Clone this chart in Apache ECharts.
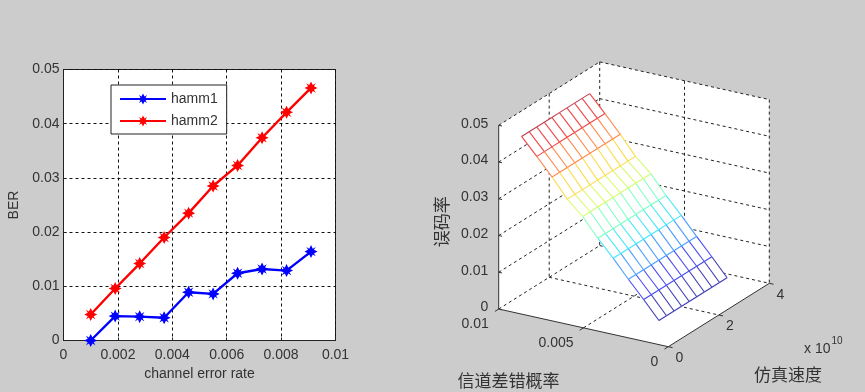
<!DOCTYPE html>
<html>
<head>
<meta charset="utf-8">
<title>BER</title>
<script src="https://cdn.jsdelivr.net/npm/echarts@6/dist/echarts.min.js"></script>
<style>
  html, body { margin: 0; background: #cccccc; }
  #main { width: 865px; height: 392px; filter: blur(0.45px); }
</style>
</head>
<body>
<div id="main"></div>
<script>
// values
var errorRates = [0.001, 0.0019, 0.0028, 0.0037, 0.0046, 0.0055, 0.0064, 0.0073, 0.0082, 0.0091];
var hamm1 = [0, 0.0045, 0.0044, 0.0042, 0.0089, 0.0086, 0.0124, 0.0132, 0.0129, 0.0164];
var hamm2 = [0.0048, 0.0096, 0.0142, 0.019, 0.0235, 0.0285, 0.0323, 0.0374, 0.0421, 0.0466];

// right plot: the mesh, speed in units of 1e10
var speeds = [0.3, 0.6, 0.9, 1.2, 1.5, 1.8, 2.1, 2.4, 2.7, 3.0];
var surfaceBER = [0.0048, 0.0096, 0.0142, 0.019, 0.0235, 0.0285, 0.0323, 0.0374, 0.0421, 0.0466];

var errTicks = [0.01, 0.005, 0];
var speedTicks = [0, 2, 4];
var berTicks = [0, 0.01, 0.02, 0.03, 0.04, 0.05];

// colours of the mesh from low to high BER
var meshColors = ['#3a3ab4', '#4848f0', '#4a9cff', '#40e4ff', '#7cffc4', '#d4ff74', '#ffd844', '#ff8a4a', '#f04848', '#c03c50'];

var ERR_MAX = 0.01, SPEED_MAX = 4, BER_MAX = 0.05;
var TEXT = '#333333';
var FONT = '"Liberation Sans", Arial, sans-serif';
var CJK = '"Noto Sans CJK SC", sans-serif';

/** oblique view of the 3d box, result is in the units of the hidden axes */
function project(err, speed, ber) {
    return [
        668.3 - 169.6 * err / ERR_MAX + 101 * speed / SPEED_MAX,
        346.7 - 37.7 * err / ERR_MAX - 63.4 * speed / SPEED_MAX - 183.7 * ber / BER_MAX
    ];
}

function meshColor(ber) {
    var t = (ber - surfaceBER[0]) / (surfaceBER[surfaceBER.length - 1] - surfaceBER[0]);
    return echarts.color.lerp(t, meshColors);
}

// dashed lines of the box
var dashedLines = [
    [ERR_MAX, 0, BER_MAX, ERR_MAX, SPEED_MAX, BER_MAX],
    [ERR_MAX, SPEED_MAX, BER_MAX, 0, SPEED_MAX, BER_MAX],
    [0, SPEED_MAX, BER_MAX, 0, SPEED_MAX, 0],
    [ERR_MAX, SPEED_MAX, BER_MAX, ERR_MAX, SPEED_MAX, 0],
    [ERR_MAX, 2, BER_MAX, ERR_MAX, 2, 0],
    [0.005, SPEED_MAX, BER_MAX, 0.005, SPEED_MAX, 0],
    [ERR_MAX, 0, 0, ERR_MAX, SPEED_MAX, 0],
    [ERR_MAX, SPEED_MAX, 0, 0, SPEED_MAX, 0],
    [0.005, 0, 0, 0.005, SPEED_MAX, 0],
    [ERR_MAX, 2, 0, 0, 2, 0]
];
berTicks.slice(1, 5).forEach(function (b) {
    dashedLines.push([ERR_MAX, 0, b, ERR_MAX, SPEED_MAX, b]);
    dashedLines.push([ERR_MAX, SPEED_MAX, b, 0, SPEED_MAX, b]);
});

// solid axes and their ticks
var axisLines = [
    [ERR_MAX, 0, 0, ERR_MAX, 0, BER_MAX],
    [ERR_MAX, 0, 0, 0, 0, 0],
    [0, 0, 0, 0, SPEED_MAX, 0]
];
berTicks.forEach(function (b) {
    axisLines.push([ERR_MAX, 0, b, ERR_MAX - 0.0002, 0, b]);
});
errTicks.forEach(function (e) {
    axisLines.push([e, 0, 0, e, -0.15, 0]);
});
speedTicks.forEach(function (s) {
    axisLines.push([0, s, 0, -0.00025, s, 0]);
});

// one row per mesh node, the last row and column have no cell of their own
var meshNodes = [];
errorRates.forEach(function (e, i) {
    speeds.forEach(function (s, j) {
        meshNodes.push([i, j]);
    });
});

var tickLabels = [];
berTicks.forEach(function (b) {
    tickLabels.push({ at: [ERR_MAX, 0, b], text: String(b), dx: -10.5, dy: -1.5, align: 'right' });
});
errTicks.forEach(function (e) {
    tickLabels.push({ at: [e, 0, 0], text: String(e), dx: -10, dy: 15.5, align: 'right' });
});
speedTicks.forEach(function (s) {
    tickLabels.push({ at: [0, s, 0], text: String(s), dx: 11, dy: 11.5, align: 'center' });
});

function segment(api, row, style) {
    var a = api.coord(project(row[0], row[1], row[2]));
    var b = api.coord(project(row[3], row[4], row[5]));
    return { type: 'line', shape: { x1: a[0], y1: a[1], x2: b[0], y2: b[1] }, style: style };
}

function renderLines(color, dash) {
    return function (params, api) {
        return segment(api, [0, 1, 2, 3, 4, 5].map(function (k) { return api.value(k); }), {
            stroke: color, lineWidth: 1, lineDash: dash || null
        });
    };
}

function renderWalls(params, api) {
    var corners = [
        [ERR_MAX, 0, 0], [ERR_MAX, 0, BER_MAX], [ERR_MAX, SPEED_MAX, BER_MAX],
        [0, SPEED_MAX, BER_MAX], [0, SPEED_MAX, 0], [0, 0, 0]
    ];
    return {
        type: 'polygon',
        shape: { points: corners.map(function (c) { return api.coord(project(c[0], c[1], c[2])); }) },
        style: { fill: '#ffffff' }
    };
}

function meshNode(a, b) {
    return [errorRates[a], speeds[b], surfaceBER[a]];
}

// white face of a cell, hides the dashed lines behind the mesh
function renderMeshFace(params, api) {
    var i = api.value(0), j = api.value(1);
    if (i >= errorRates.length - 1 || j >= speeds.length - 1) {
        return null;
    }
    return {
        type: 'polygon',
        shape: {
            points: [meshNode(i, j), meshNode(i + 1, j), meshNode(i + 1, j + 1), meshNode(i, j + 1)].map(function (c) {
                return api.coord(project(c[0], c[1], c[2]));
            })
        },
        style: { fill: '#ffffff', stroke: '#ffffff', lineWidth: 0.5 }
    };
}

function renderMeshEdges(params, api) {
    var i = api.value(0), j = api.value(1);
    var children = [];
    var stroke = { stroke: meshColor(surfaceBER[i]), lineWidth: 1.1 };
    if (j < speeds.length - 1) {
        children.push(segment(api, meshNode(i, j).concat(meshNode(i, j + 1)), stroke));
    }
    if (i < errorRates.length - 1) {
        children.push(segment(api, meshNode(i, j).concat(meshNode(i + 1, j)), stroke));
    }
    return { type: 'group', children: children };
}

function renderTickLabel(params, api) {
    var t = tickLabels[params.dataIndex];
    var p = api.coord(project(t.at[0], t.at[1], t.at[2]));
    return {
        type: 'text',
        x: p[0] + t.dx,
        y: p[1] + t.dy,
        style: { text: t.text, fill: TEXT, font: '14px ' + FONT, align: t.align, verticalAlign: 'middle' }
    };
}

function boxSeries(renderItem, data, z) {
    return {
        type: 'custom',
        xAxisIndex: 1,
        yAxisIndex: 1,
        coordinateSystem: 'cartesian2d',
        renderItem: renderItem,
        data: data,
        clip: false,
        silent: true,
        z: z
    };
}

var STAR = 'path://M0,-11 L3,-5 L8,-8 L5,-3 L11,0 L5,3 L8,8 L3,5 L0,11 L-3,5 L-8,8 L-5,3 L-11,0 L-5,-3 L-8,-8 L-3,-5 Z';

function linePoints(values) {
    return values.map(function (v, i) { return [errorRates[i], v]; });
}

var chart = echarts.init(document.getElementById('main'));
chart.setOption({
    animation: false,
    backgroundColor: '#cccccc',
    legend: {
        left: 111,
        top: 85,
        orient: 'vertical',
        data: ['hamm1', 'hamm2'],
        itemWidth: 46,
        itemHeight: 14,
        itemGap: 8,
        padding: [7, 9, 6, 8],
        backgroundColor: '#ffffff',
        borderColor: '#222222',
        borderWidth: 1,
        borderRadius: 0,
        textStyle: { fontSize: 14, fontFamily: FONT, color: TEXT }
    },
    grid: [
        { left: 63.5, top: 69.5, width: 272, height: 271, show: true, backgroundColor: '#ffffff', borderColor: '#222222', borderWidth: 1 },
        { left: 450, top: 50, width: 400, height: 320, show: false }
    ],
    xAxis: [
        {
            type: 'value',
            min: 0,
            max: 0.01,
            interval: 0.002,
            name: 'channel error rate',
            nameLocation: 'middle',
            nameGap: 27,
            nameTextStyle: { fontSize: 14, fontFamily: FONT, color: TEXT },
            axisLine: { lineStyle: { color: '#222222' } },
            axisTick: { inside: true, length: 3, lineStyle: { color: '#222222' } },
            axisLabel: { fontSize: 14, fontFamily: FONT, color: TEXT, margin: 8, hideOverlap: false },
            splitLine: { lineStyle: { color: '#111111', type: [3, 3] } }
        },
        { gridIndex: 1, type: 'value', min: 450, max: 850, show: false }
    ],
    yAxis: [
        {
            type: 'value',
            min: 0,
            max: 0.05,
            interval: 0.01,
            name: 'BER',
            nameLocation: 'middle',
            nameGap: 42,
            nameTextStyle: { fontSize: 14, fontFamily: FONT, color: TEXT },
            axisLine: { lineStyle: { color: '#222222' } },
            axisTick: { inside: true, length: 3, lineStyle: { color: '#222222' } },
            axisLabel: { fontSize: 14, fontFamily: FONT, color: TEXT, margin: 4 },
            splitLine: { lineStyle: { color: '#111111', type: [3, 3] } }
        },
        { gridIndex: 1, type: 'value', min: 50, max: 370, inverse: true, show: false }
    ],
    series: [
        {
            name: 'hamm1',
            type: 'line',
            data: linePoints(hamm1),
            symbol: STAR,
            symbolSize: 13,
            itemStyle: { color: '#0000ff' },
            lineStyle: { color: '#0000ff', width: 2.4 },
            z: 5
        },
        {
            name: 'hamm2',
            type: 'line',
            data: linePoints(hamm2),
            symbol: STAR,
            symbolSize: 13,
            itemStyle: { color: '#ff0000' },
            lineStyle: { color: '#ff0000', width: 2.4 },
            z: 5
        },
        boxSeries(renderWalls, [[0, 0]], 1),
        boxSeries(renderLines('#222222', [3, 3]), dashedLines, 2),
        boxSeries(renderMeshFace, meshNodes, 3),
        boxSeries(renderMeshEdges, meshNodes, 4),
        boxSeries(renderLines('#333333'), axisLines, 4),
        boxSeries(renderTickLabel, tickLabels.map(function (t, i) { return [i, 0]; }), 4)
    ],
    graphic: [
        { type: 'text', x: 441.7, y: 221.7, rotation: Math.PI / 2, style: { text: '误码率', font: '17px ' + CJK, fill: TEXT, align: 'center', verticalAlign: 'middle' } },
        { type: 'text', x: 508.5, y: 381, style: { text: '信道差错概率', font: '17px ' + CJK, fill: TEXT, align: 'center', verticalAlign: 'middle' } },
        { type: 'text', x: 788, y: 375, style: { text: '仿真速度', font: '17px ' + CJK, fill: TEXT, align: 'center', verticalAlign: 'middle' } },
        { type: 'text', x: 804, y: 349.5, style: { text: 'x 10', font: '14px ' + FONT, fill: TEXT, verticalAlign: 'middle' } },
        { type: 'text', x: 831.5, y: 341, style: { text: '10', font: '10px ' + FONT, fill: TEXT, verticalAlign: 'middle' } }
    ]
});
</script>
</body>
</html>
